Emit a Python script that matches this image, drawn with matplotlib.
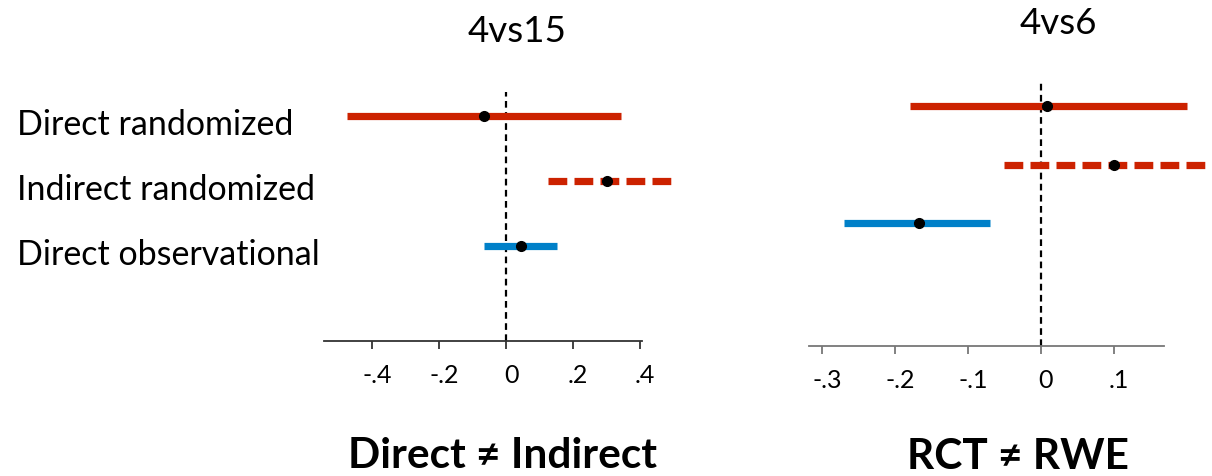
import numpy as np
import matplotlib.pyplot as plt
from matplotlib.transforms import blended_transform_factory, ScaledTranslation

plt.rcParams["font.family"] = ["Lato", "DejaVu Sans"]

# ===============================
# Data
# ===============================
row_labels = ["Direct randomized", "Indirect randomized", "Direct observational"]

# 4vs15 panel
left_est = [-0.067, 0.302, 0.043]
left_lo = [-0.475, 0.125, -0.067]
left_hi = [0.344, 0.497, 0.153]

# 4vs6 panel
right_est = [0.009, 0.100, -0.167]
right_lo = [-0.180, -0.050, -0.270]
right_hi = [0.200, 0.250, -0.070]

left_ticks = [-0.4, -0.2, 0, 0.2, 0.4]
left_ticklabels = ["-.4", "-.2", "0", ".2", ".4"]
right_ticks = [-0.3, -0.2, -0.1, 0, 0.1]
right_ticklabels = ["-.3", "-.2", "-.1", "0", ".1"]

# ===============================
# Style
# ===============================
RED = "#cc2200"
BLUE = "#0080c8"
row_colors = [RED, RED, BLUE]
row_styles = ["-", (0, (2.6, 1.0)), "-"]

W, H = 1212, 477
fig = plt.figure(figsize=(W / 100, H / 100), dpi=100)


def px_axes(x0, x1, ytop, ybot):
    return fig.add_axes([x0 / W, 1 - ybot / H, (x1 - x0) / W, (ybot - ytop) / H])


def draw_panel(ax, est, lo, hi, xlim, ylim, ticks, ticklabels, spine_color):
    ax.set_xlim(*xlim)
    ax.set_ylim(*ylim)
    ax.axvline(0, color="black", linestyle=(0, (3, 2)), linewidth=1.6, zorder=1)
    for i in range(len(est)):
        ax.plot([lo[i], hi[i]], [i, i], color=row_colors[i], linestyle=row_styles[i],
                linewidth=5.2, solid_capstyle="butt", dash_capstyle="butt",
                clip_on=False, zorder=2)
        ax.plot(est[i], i, "o", color="black", markersize=7, clip_on=False, zorder=3)
    for s in ["left", "right", "top"]:
        ax.spines[s].set_visible(False)
    ax.spines["bottom"].set_color(spine_color)
    ax.spines["bottom"].set_linewidth(1.3)
    ax.set_yticks([])
    ax.set_xticks(ticks)
    ax.set_xticklabels(ticklabels)
    ax.tick_params(axis="x", direction="out", length=6, width=1.3, color=spine_color,
                   labelsize=18, pad=10)
    shift = ScaledTranslation(5 / 100, 0, fig.dpi_scale_trans)
    for lab in ax.get_xticklabels():
        lab.set_transform(lab.get_transform() + shift)
    ax.patch.set_alpha(0)


# left panel
ax1 = px_axes(324, 642, 93, 342)
draw_panel(ax1, left_est, left_lo, left_hi, (-0.545, 0.406), (3.46, -0.37),
           left_ticks, left_ticklabels, "#333333")

# right panel
ax2 = px_axes(809, 1164, 81, 347)
draw_panel(ax2, right_est, right_lo, right_hi, (-0.318, 0.169), (4.09, -0.44),
           right_ticks, right_ticklabels, "#777777")

# row labels
trans = blended_transform_factory(fig.transFigure, ax1.transData)
for i, lab in enumerate(row_labels):
    ax1.text(17 / W, i + 0.12, lab, transform=trans, ha="left", va="center",
             fontsize=24.5, color="black")

# titles
fig.text(517 / W, 1 - 32 / H, "4vs15", ha="center", va="center", fontsize=26.5)
fig.text(1058 / W, 1 - 23 / H, "4vs6", ha="center", va="center", fontsize=26.5)

# bottom captions
fig.text(502 / W, 1 - 468 / H, "Direct \u2260 Indirect", ha="center", va="baseline",
         fontsize=30.5, fontweight="bold")
fig.text(1018 / W, 1 - 469 / H, "RCT \u2260 RWE", ha="center", va="baseline",
         fontsize=30.5, fontweight="bold")

fig.savefig("out.png", dpi=100)
